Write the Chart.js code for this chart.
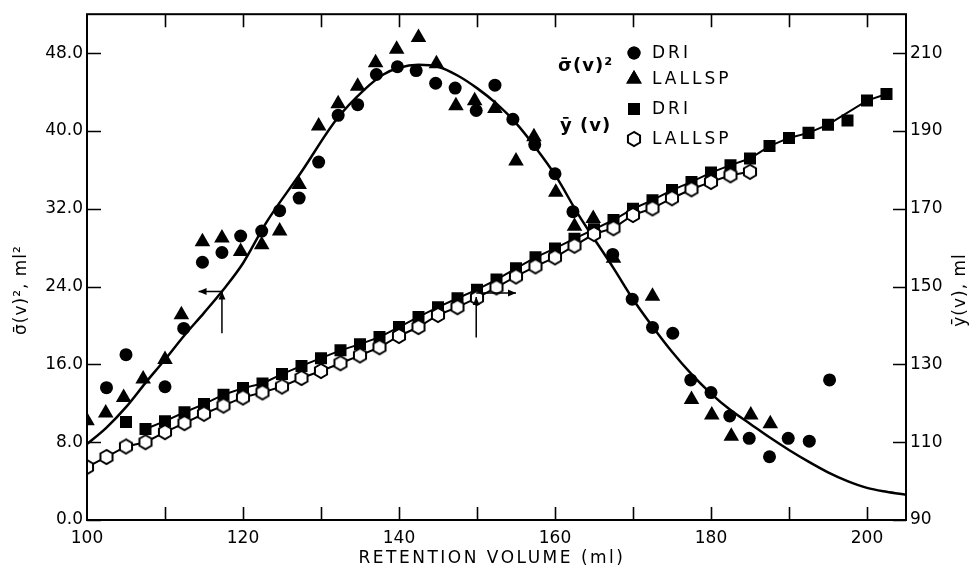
<!DOCTYPE html>
<html>
<head>
<meta charset="utf-8">
<script src="https://cdn.jsdelivr.net/npm/chart.js@4.4.1/dist/chart.umd.min.js"></script>
<style>
  html, body { margin: 0; padding: 0; background: #fff; }
  #wrap { width: 973px; height: 572px; }
</style>
</head>
<body>
<div id="wrap"><canvas id="c" width="973" height="572"></canvas></div>
<script>
// sigma(v)^2, DRI (circles)
const s2DriX = [102.5, 105, 110, 112.4, 114.8, 117.3, 119.7, 122.4, 124.7, 127.2, 129.7, 132.2, 134.7, 137.1, 139.8, 142.2, 144.7, 147.2, 149.9, 152.3, 154.6, 157.4, 160.0, 162.3, 167.4, 169.9, 172.5, 175.1, 177.4, 180.0, 182.4, 184.9, 187.5, 189.9, 192.6, 195.2];
const s2DriY = [13.6, 17.0, 13.7, 19.7, 26.5, 27.5, 29.2, 29.7, 31.8, 33.1, 36.8, 41.6, 42.7, 45.8, 46.6, 46.2, 44.9, 44.4, 42.1, 44.7, 41.2, 38.6, 35.6, 31.7, 27.3, 22.7, 19.8, 19.2, 14.4, 13.1, 10.7, 8.4, 6.5, 8.4, 8.1, 14.4];

// sigma(v)^2, LALLSP (triangles)
const s2LalX = [100.0, 102.4, 104.7, 107.2, 110.0, 112.1, 114.8, 117.3, 119.7, 122.4, 124.7, 127.2, 129.7, 132.2, 134.7, 137.0, 139.7, 142.5, 144.8, 147.3, 149.7, 152.3, 155.0, 157.3, 160.1, 162.5, 164.9, 167.5, 172.5, 177.5, 180.1, 182.6, 185.1, 187.6];
const s2LalY = [10.2, 11.0, 12.6, 14.5, 16.5, 21.1, 28.6, 29.0, 27.6, 28.3, 29.7, 34.5, 40.5, 42.8, 44.6, 47.0, 48.4, 49.6, 46.9, 42.6, 43.1, 42.3, 36.9, 39.4, 33.7, 30.2, 31.0, 26.9, 23.0, 12.4, 10.8, 8.6, 10.8, 9.9];

// fitted sigma(v)^2 curve
const s2FitX = [100, 102.5, 105, 107.5, 110, 112.5, 115, 117.5, 120, 123, 127.5, 132, 135.5, 138, 140, 142.5, 145, 147.5, 150, 152.5, 155, 157.5, 160, 163, 167.5, 170, 172.5, 175, 177.5, 180, 182.5, 185, 187.5, 190, 192.5, 195, 197.5, 200, 202.5, 205];
const s2FitY = [7.8, 9.5, 11.6, 14.1, 16.5, 19.0, 21.3, 23.7, 26.4, 30.6, 35.8, 41.2, 44.2, 45.8, 46.5, 46.8, 46.6, 45.7, 44.4, 42.8, 40.8, 38.3, 35.5, 31.4, 25.9, 22.7, 19.9, 17.3, 15.0, 13.0, 11.3, 9.9, 8.5, 7.2, 6.0, 4.9, 4.0, 3.3, 2.9, 2.6];

// y(v), DRI (squares)
const yDriX = [105, 107.5, 110, 112.5, 115, 117.5, 120, 122.5, 125, 127.5, 130, 132.5, 135, 137.5, 140, 142.5, 145, 147.5, 150, 152.5, 155, 157.5, 160, 162.5, 165, 167.5, 170, 172.5, 175, 177.5, 180, 182.5, 185, 187.5, 190, 192.5, 195, 197.5, 200, 202.5];
const yDriY = [115.2, 113.4, 115.4, 117.7, 119.8, 122.2, 123.9, 125.1, 127.5, 129.6, 131.6, 133.6, 135.2, 137.0, 139.6, 142.2, 144.7, 147.0, 149.2, 151.8, 154.7, 157.5, 159.8, 162.3, 164.7, 167.1, 170.0, 172.2, 174.8, 176.9, 179.3, 181.2, 182.9, 186.1, 188.2, 189.5, 191.6, 192.7, 197.8, 199.5];
const yDriOff = [105, 197.5]; // points the drawn line skips

// y(v), LALLSP (open hexagons)
const yLalX = [100, 102.5, 105, 107.5, 110, 112.5, 115, 117.5, 120, 122.5, 125, 127.5, 130, 132.5, 135, 137.5, 140, 142.5, 145, 147.5, 150, 152.5, 155, 157.5, 160, 162.5, 165, 167.5, 170, 172.5, 175, 177.5, 180, 182.5, 185];
const yLalY = [103.6, 106.2, 108.9, 110.0, 112.6, 114.9, 117.3, 119.4, 121.5, 122.8, 124.3, 126.5, 128.3, 130.3, 132.3, 134.4, 137.3, 139.6, 142.7, 144.7, 147.1, 149.8, 152.6, 155.2, 157.5, 160.5, 163.5, 165.0, 168.4, 170.1, 172.7, 175.0, 176.9, 178.6, 179.5];

// axis ticks
const xTicks = [100, 120, 140, 160, 180, 200];
const xMinor = [110, 130, 150, 170, 190];
const leftTicks = [0, 8, 16, 24, 32, 40, 48];
const rightTicks = [90, 110, 130, 150, 170, 190, 210];

// arrows: [x, yFrom, yTo, xTo]
const arrowLeft = [117.3, 19.2, 23.5, 114.3];
const arrowRight = [149.9, 136.9, 147.3, 155.0];

const FONT = 'DejaVu Sans';
const pts = (xs, ys) => xs.map((x, i) => ({ x: x, y: ys[i] }));

// hexagon marker
const hex = document.createElement('canvas');
hex.width = 18; hex.height = 18;
(function () {
    const g = hex.getContext('2d');
    g.beginPath();
    for (let k = 0; k < 6; k++) {
        const a = Math.PI / 2 + k * Math.PI / 3;
        const px = 9 + 7 * Math.cos(a), py = 9 - 7 * Math.sin(a);
        k ? g.lineTo(px, py) : g.moveTo(px, py);
    }
    g.closePath();
    g.fillStyle = '#fff'; g.fill();
    g.lineWidth = 2; g.strokeStyle = '#000'; g.stroke();
})();

function drawArrowHead(ctx, x, y, dx, dy) {
    const L = 8, W = 3.5;
    ctx.beginPath();
    ctx.moveTo(x, y);
    ctx.lineTo(x - dx * L - dy * W, y - dy * L + dx * W);
    ctx.lineTo(x - dx * L + dy * W, y - dy * L - dx * W);
    ctx.closePath();
    ctx.fill();
}

const decor = {
    id: 'decor',
    afterDraw(chart) {
        const ctx = chart.ctx, a = chart.chartArea;
        const sx = chart.scales.x, sl = chart.scales.y, sr = chart.scales.y2;
        ctx.save();
        ctx.strokeStyle = '#000'; ctx.fillStyle = '#000';
        ctx.lineWidth = 2;
        ctx.strokeRect(a.left, a.top, a.right - a.left, a.bottom - a.top);

        // inward ticks
        ctx.lineWidth = 1.6;
        ctx.beginPath();
        xTicks.concat(xMinor).forEach(v => {
            if (v === 100) return;
            const px = Math.round(sx.getPixelForValue(v)) + 0.5;
            ctx.moveTo(px, a.bottom); ctx.lineTo(px, a.bottom - 13);
            ctx.moveTo(px, a.top); ctx.lineTo(px, a.top + 13);
        });
        leftTicks.forEach(v => {
            const py = Math.round(sl.getPixelForValue(v)) + 0.5;
            ctx.moveTo(a.left, py); ctx.lineTo(a.left + 14, py);
        });
        rightTicks.forEach(v => {
            const py = Math.round(sr.getPixelForValue(v)) + 0.5;
            ctx.moveTo(a.right, py); ctx.lineTo(a.right - 13, py);
        });
        ctx.stroke();

        // arrows
        ctx.lineWidth = 1.5;
        let x0 = sx.getPixelForValue(arrowLeft[0]);
        let y0 = sl.getPixelForValue(arrowLeft[1]), y1 = sl.getPixelForValue(arrowLeft[2]);
        let x1 = sx.getPixelForValue(arrowLeft[3]);
        ctx.beginPath(); ctx.moveTo(x0, y0); ctx.lineTo(x0, y1); ctx.moveTo(x0, y1); ctx.lineTo(x1, y1); ctx.stroke();
        drawArrowHead(ctx, x0, y1, 0, -1);
        drawArrowHead(ctx, x1, y1, -1, 0);
        x0 = sx.getPixelForValue(arrowRight[0]);
        y0 = sr.getPixelForValue(arrowRight[1]); y1 = sr.getPixelForValue(arrowRight[2]);
        x1 = sx.getPixelForValue(arrowRight[3]);
        ctx.beginPath(); ctx.moveTo(x0, y0); ctx.lineTo(x0, y1); ctx.moveTo(x0, y1 - 4); ctx.lineTo(x1, y1 - 4); ctx.stroke();
        drawArrowHead(ctx, x0, y1, 0, -1);
        drawArrowHead(ctx, x1, y1 - 4, 1, 0);

        // axis titles
        ctx.textBaseline = 'middle';
        ctx.textAlign = 'center';
        ctx.font = '17px ' + FONT;
        ctx.letterSpacing = '2.5px';
        ctx.fillText('RETENTION VOLUME (ml)', 492, 559);
        ctx.font = '17px ' + FONT;
        ctx.letterSpacing = '1px';
        ctx.save();
        ctx.translate(22, 290); ctx.rotate(-Math.PI / 2);
        ctx.fillText('\u03C3\u0304(v)\u00B2, ml\u00B2', 0, 0);
        ctx.restore();
        ctx.save();
        ctx.translate(961, 290); ctx.rotate(-Math.PI / 2);
        ctx.fillText('\u0233(v), ml', 0, 0);
        ctx.restore();

        // legend
        ctx.textAlign = 'left';
        ctx.font = 'bold 18px ' + FONT;
        ctx.letterSpacing = '1px';
        ctx.fillText('\u03C3\u0304(v)\u00B2', 558, 66);
        ctx.fillText('\u0233 (v)', 560, 126);
        ctx.font = '17px ' + FONT;
        ctx.letterSpacing = '3px';
        const rows = [53, 79, 109, 139];
        const names = ['DRI', 'LALLSP', 'DRI', 'LALLSP'];
        const styles = ['circle', 'triangle', 'rect', hex];
        const rads = [6.5, 9, 8.5, 0];
        rows.forEach((ry, i) => {
            Chart.helpers.drawPoint(ctx, { pointStyle: styles[i], radius: rads[i], borderWidth: 0 }, 634, ry);
            ctx.fill();
            ctx.fillText(names[i], 652, ry + 1);
        });
        ctx.restore();
    }
};

const tickFont = { family: FONT, size: 17 };
const setTicks = list => (s => { s.ticks = list.map(v => ({ value: v })); });

new Chart(document.getElementById('c'), {
    type: 'scatter',
    data: {
        datasets: [
            { data: pts(yLalX, yLalY), yAxisID: 'y2', pointStyle: hex, pointRadius: 8, showLine: true, borderColor: '#000', borderWidth: 2 },
            { data: pts(yDriX, yDriY), yAxisID: 'y2', pointStyle: 'rect', pointRadius: 8.5, backgroundColor: '#000', borderColor: '#000', pointBorderWidth: 0 },
            { data: pts(s2DriX, s2DriY), yAxisID: 'y', pointStyle: 'circle', pointRadius: 6.5, backgroundColor: '#000', borderColor: '#000', pointBorderWidth: 0 },
            { data: pts(s2LalX, s2LalY), yAxisID: 'y', pointStyle: 'triangle', pointRadius: 9, backgroundColor: '#000', borderColor: '#000', pointBorderWidth: 0 },
            { data: pts(yDriX, yDriY).filter(p => !yDriOff.includes(p.x)), yAxisID: 'y2', showLine: true, pointRadius: 0, borderColor: '#000', borderWidth: 2 },
            { data: pts(s2FitX, s2FitY), yAxisID: 'y', showLine: true, pointRadius: 0, borderColor: '#000', borderWidth: 2.5, cubicInterpolationMode: 'monotone' }
        ]
    },
    options: {
        responsive: false,
        animation: false,
        events: [],
        layout: { padding: { top: 12, left: 0, right: 0, bottom: 0 } },
        plugins: { legend: { display: false }, tooltip: { enabled: false } },
        scales: {
            x: {
                type: 'linear', position: 'bottom', min: 100, max: 205,
                grid: { display: false, drawTicks: false }, border: { display: false },
                afterFit: s => { s.height = 52; },
                afterBuildTicks: setTicks(xTicks),
                ticks: { autoSkip: false, maxRotation: 0, padding: 8, color: '#000', font: tickFont,
                    callback: v => String(v) }
            },
            y: {
                type: 'linear', position: 'left', min: 0, max: 52,
                grid: { display: false, drawTicks: false }, border: { display: false },
                afterFit: s => { s.width = 87; },
                afterBuildTicks: setTicks(leftTicks),
                ticks: { autoSkip: false, padding: 4, color: '#000', font: tickFont,
                    callback: v => v.toFixed(1) }
            },
            y2: {
                type: 'linear', position: 'right', min: 90, max: 220,
                grid: { display: false, drawTicks: false }, border: { display: false },
                afterFit: s => { s.width = 67; },
                afterBuildTicks: setTicks(rightTicks),
                ticks: { autoSkip: false, padding: 4, color: '#000', font: tickFont,
                    callback: v => String(v) }
            }
        }
    },
    plugins: [decor]
});
</script>
</body>
</html>
